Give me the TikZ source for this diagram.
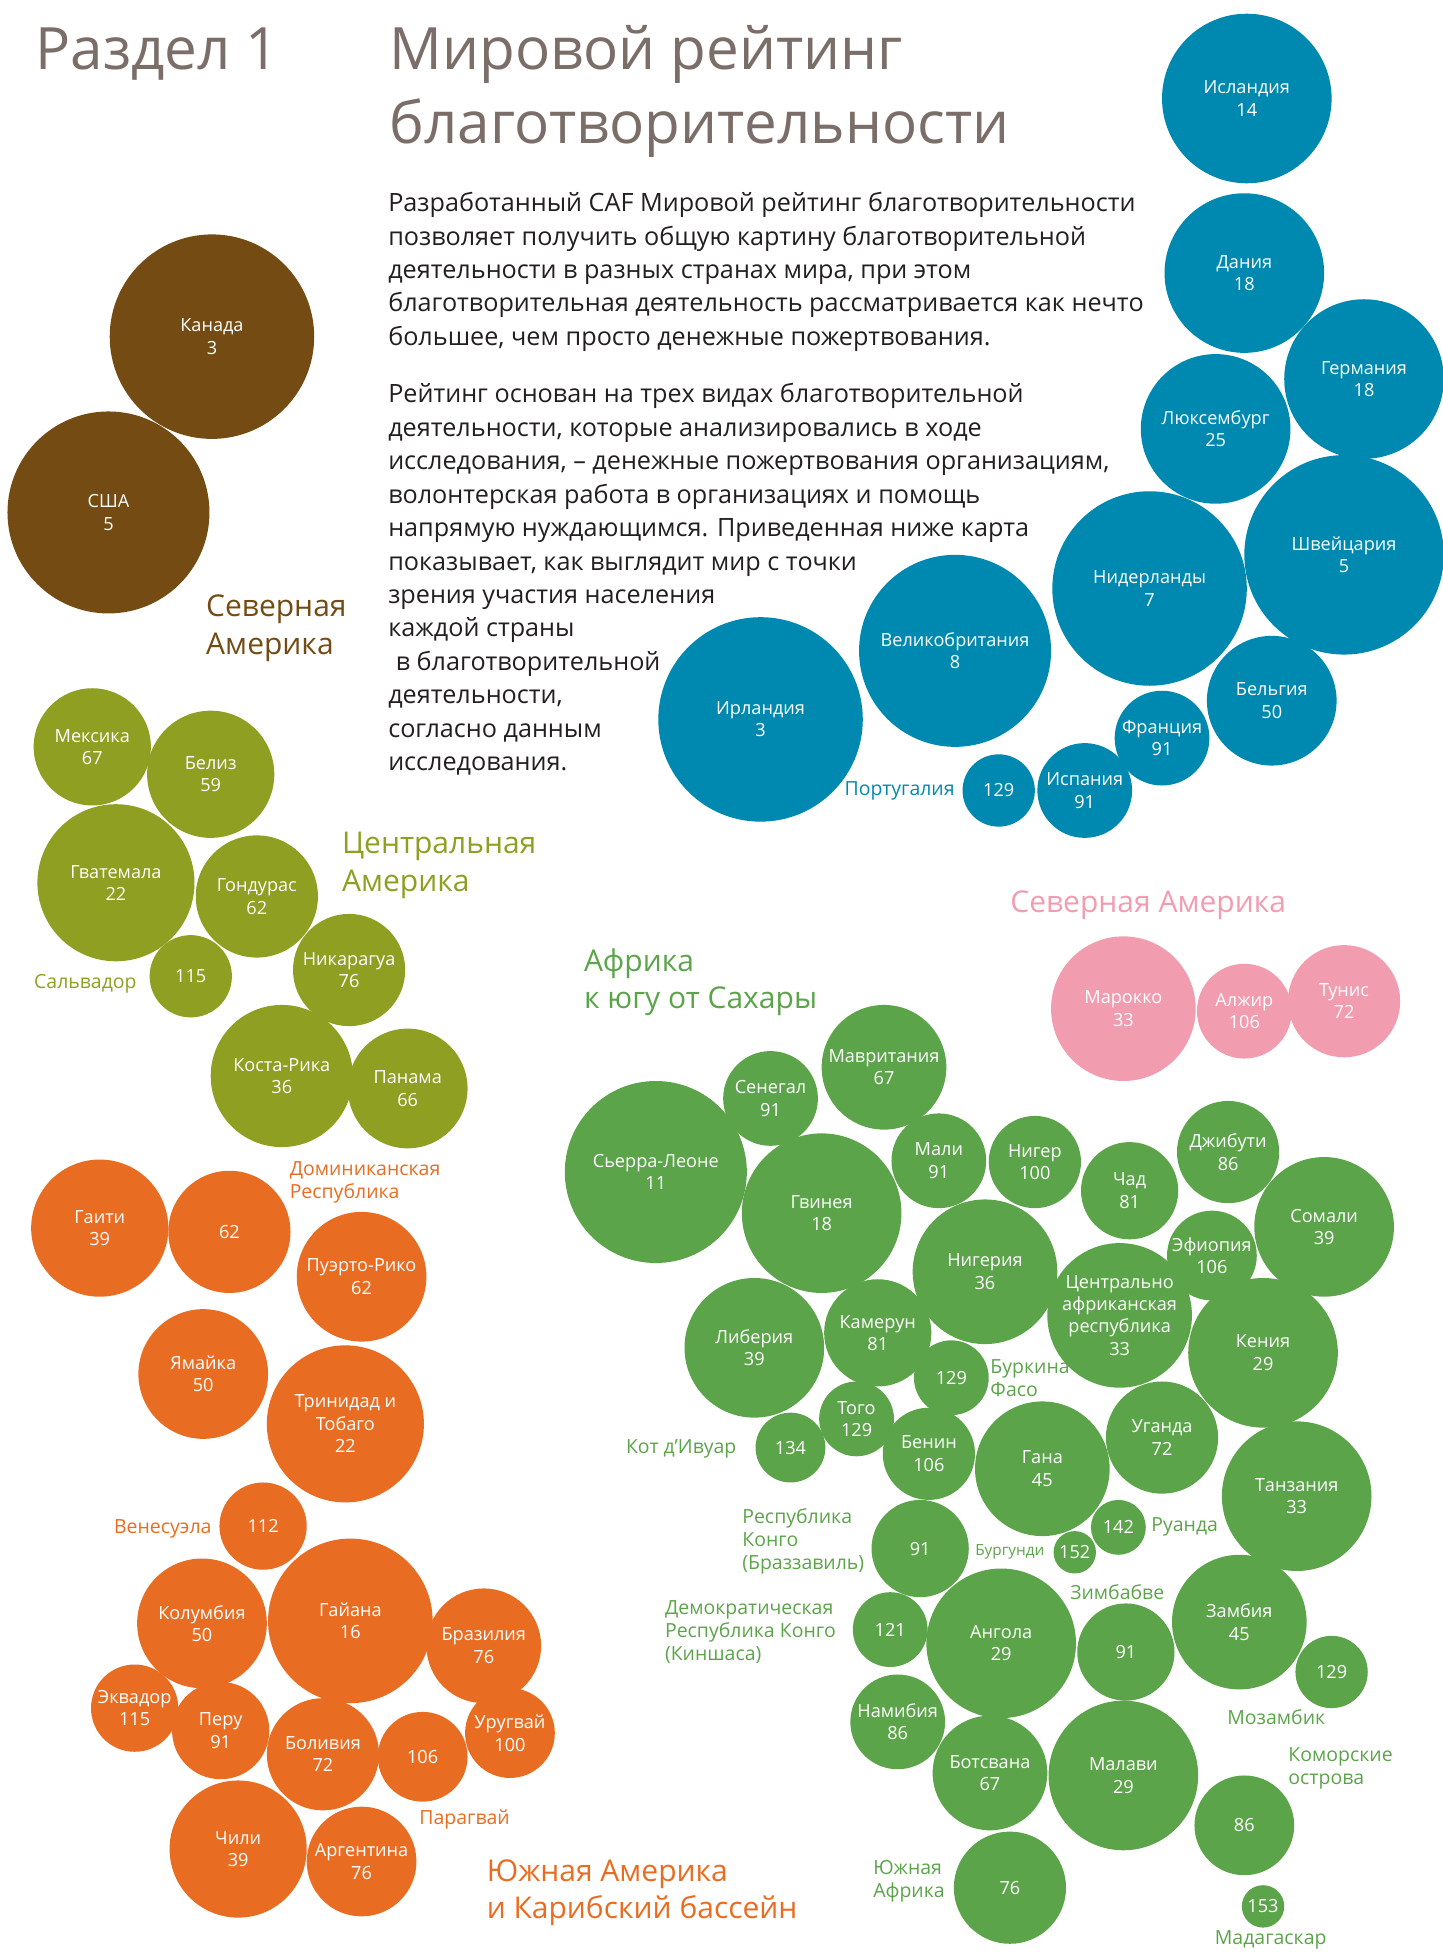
\documentclass[tikz,border=0pt]{standalone}
\usepackage{fontspec}
\setmainfont{Open Sans}

\definecolor{cBlu}{RGB}{0,137,176}
\definecolor{cBrn}{RGB}{116,75,19}
\definecolor{cOlv}{RGB}{142,159,34}
\definecolor{cOrg}{RGB}{232,109,34}
\definecolor{cGrn}{RGB}{92,164,74}
\definecolor{cPnk}{RGB}{242,156,176}
\definecolor{cTtl}{RGB}{123,110,105}
\definecolor{cTxt}{RGB}{35,31,32}

\newcommand\bubfont{\fontsize{13.6}{16.8}\selectfont}
\newcommand\lblfont{\fontsize{14.6}{17.2}\selectfont}
\newcommand\smlfont{\fontsize{11.5}{13}\selectfont}
\newcommand\regfont{\fontsize{22.5}{28}\selectfont}
\newcommand\txtfont{\fontsize{18.9}{25.07}\selectfont}
\newcommand\ttlfont{\fontsize{43.8}{55.2}\selectfont}

\tikzset{every picture/.style={line width=0.75pt}}
\tikzset{
  bub/.style={circle, inner sep=-8pt, text=white, align=center, font=\bubfont},
  rad/.style={minimum size=#1*1.8708pt},
  blu/.style={bub, fill=cBlu},
  brn/.style={bub, fill=cBrn},
  olv/.style={bub, fill=cOlv},
  org/.style={bub, fill=cOrg},
  grn/.style={bub, fill=cGrn},
  pnk/.style={bub, fill=cPnk},
  lbl/.style={inner sep=0pt, align=left, font=\lblfont},
  reg/.style={inner sep=0pt, align=left, font=\regfont},
}

\begin{document}
\begin{tikzpicture}[x=0.9354pt,y=0.9354pt,yscale=-1,xscale=1]
\useasboundingbox (0,0) rectangle (1157,1568);

% Title
\node[anchor=base west, inner sep=0pt, font=\ttlfont, text=cTtl] (sec) at (28,56) {Раздел 1};
\node[anchor=base west, inner sep=0pt, font=\ttlfont, text=cTtl, align=left] (ttl) at (312,115) {Мировой рейтинг\\благотворительности};

% Text (base = last line)
\node[anchor=base west, inner sep=0pt, font=\txtfont, text=cTxt, align=left] (par1) at (311,277) {Разработанный CAF Мировой рейтинг благотворительности\\позволяет получить общую картину благотворительной\\деятельности в разных странах мира, при этом\\благотворительная деятельность рассматривается как нечто\\большее, чем просто денежные пожертвования.};
\node[anchor=base west, inner sep=0pt, font=\txtfont, text=cTxt, align=left] (par2) at (311,618) {Рейтинг основан на трех видах благотворительной\\деятельности, которые анализировались в ходе\\исследования, – денежные пожертвования организациям,\\волонтерская работа в организациях и помощь\\напрямую нуждающимся. Приведенная ниже карта\\показывает, как выглядит мир с точки\\зрения участия населения\\каждой страны\\\hspace*{0.3em}в благотворительной\\деятельности,\\согласно данным\\исследования.};

% Europe
\node[blu, rad=68] (isl) at (1000,79) {Исландия\\14};
\node[blu, rad=64] (dnk) at (998,219) {Дания\\18};
\node[blu, rad=64] (deu) at (1094,304) {Германия\\18};
\node[blu, rad=60] (lux) at (975,344) {Люксембург\\25};
\node[blu, rad=80] (che) at (1078,445) {Швейцария\\5};
\node[blu, rad=78] (nld) at (922,472) {Нидерланды\\7};
\node[blu, rad=77] (gbr) at (766,522) {Великобритания\\8};
\node[blu, rad=82] (irl) at (610,577) {Ирландия\\3};
\node[blu, rad=52] (bel) at (1020,562) {Бельгия\\50};
\node[blu, rad=38] (fra) at (932,592) {Франция\\91};
\node[blu, rad=38] (esp) at (870,634) {Испания\\91};
\node[blu, rad=29] (prt) at (801,634) {129};
\node[lbl, anchor=east, text=cBlu] (prtl) at (766,634) {Португалия};

% North America
\node[brn, rad=82] (can) at (170,270) {Канада\\3};
\node[brn, rad=81] (usa) at (87,411) {США\\5};
\node[reg, anchor=west, text=cBrn] (nam) at (165,504) {Северная\\Америка};

% Central America
\node[olv, rad=47] (mex) at (74,599) {Мексика\\67};
\node[olv, rad=51] (blz) at (169,621) {Белиз\\59};
\node[olv, rad=63] (gtm) at (93,708) {Гватемала\\22};
\node[olv, rad=49] (hnd) at (206,719) {Гондурас\\62};
\node[olv, rad=33] (slv) at (153,783) {115};
\node[olv, rad=45] (nic) at (280,778) {Никарагуа\\76};
\node[olv, rad=57] (cri) at (226,863) {Коста-Рика\\36};
\node[olv, rad=48] (pan) at (327,873) {Панама\\66};
\node[lbl, anchor=west, text=cOlv] (slvl) at (27,789) {Сальвадор};
\node[reg, anchor=west, text=cOlv] (cam) at (274,694) {Центральная\\Америка};

% South America and Caribbean
\node[org, rad=55] (hti) at (80,985) {Гаити\\39};
\node[org, rad=49] (dom) at (184,988) {62};
\node[org, rad=52] (pri) at (290,1024) {Пуэрто-Рико\\62};
\node[org, rad=52] (jam) at (163,1102) {Ямайка\\50};
\node[org, rad=63] (tto) at (277,1142) {Тринидад и\\Тобаго\\22};
\node[org, rad=35] (ven) at (211,1224) {112};
\node[org, rad=52] (col) at (162,1302) {Колумбия\\50};
\node[org, rad=66] (guy) at (281,1300) {Гайана\\16};
\node[org, rad=46] (bra) at (388,1320) {Бразилия\\76};
\node[org, rad=35] (ecu) at (108,1370) {Эквадор\\115};
\node[org, rad=39] (per) at (177,1388) {Перу\\91};
\node[org, rad=45] (bol) at (259,1407) {Боливия\\72};
\node[org, rad=36] (pry) at (339,1409) {106};
\node[org, rad=36] (ury) at (409,1390) {Уругвай\\100};
\node[org, rad=55] (chl) at (191,1483) {Чили\\39};
\node[org, rad=44] (arg) at (290,1493) {Аргентина\\76};
\node[lbl, anchor=west, text=cOrg] (doml) at (232,948) {Доминиканская\\Республика};
\node[lbl, anchor=east, text=cOrg] (venl) at (170,1226) {Венесуэла};
\node[lbl, anchor=west, text=cOrg] (pryl) at (336,1459) {Парагвай};
\node[reg, anchor=west, text=cOrg] (sam) at (390,1518) {Южная Америка\\и Карибский бассейн};

% North Africa
\node[reg, anchor=west, text=cPnk] (naf) at (810,726) {Северная Америка};
\node[pnk, rad=58] (mar) at (901,809) {Марокко\\33};
\node[pnk, rad=38] (dza) at (998,811) {Алжир\\106};
\node[pnk, rad=45] (tun) at (1078,803) {Тунис\\72};

% Sub-Saharan Africa
\node[reg, anchor=west, text=cGrn] (ssa) at (468,788) {Африка\\к югу от Сахары};
\node[grn, rad=50] (mrt) at (709,856) {Мавритания\\67};
\node[grn, rad=38] (sen) at (618,881) {Сенегал\\91};
\node[grn, rad=73] (sle) at (526,940) {Сьерра-Леоне\\11};
\node[grn, rad=38] (mli) at (753,931) {Мали\\91};
\node[grn, rad=37] (ner) at (830,932) {Нигер\\100};
\node[grn, rad=39] (tcd) at (906,955) {Чад\\81};
\node[grn, rad=41] (dji) at (985,924) {Джибути\\86};
\node[grn, rad=56] (som) at (1062,984) {Сомали\\39};
\node[grn, rad=36] (eth) at (972,1007) {Эфиопия\\106};
\node[grn, rad=64] (gin) at (659,973) {Гвинея\\18};
\node[grn, rad=58] (nga) at (790,1020) {Нигерия\\36};
\node[grn, rad=58] (caf) at (898,1055) {Центрально\\африканская\\республика\\33};
\node[grn, rad=60] (ken) at (1013,1085) {Кения\\29};
\node[grn, rad=56] (lbr) at (605,1081) {Либерия\\39};
\node[grn, rad=43] (cmr) at (704,1069) {Камерун\\81};
\node[grn, rad=30] (bfa) at (763,1105) {129};
\node[grn, rad=30] (tgo) at (687,1138) {Того\\129};
\node[grn, rad=28] (civ) at (634,1161) {134};
\node[grn, rad=37] (ben) at (745,1166) {Бенин\\106};
\node[grn, rad=54] (gha) at (836,1178) {Гана\\45};
\node[grn, rad=45] (uga) at (932,1153) {Уганда\\72};
\node[grn, rad=60] (tza) at (1040,1200) {Танзания\\33};
\node[grn, rad=22] (rwa) at (897,1225) {142};
\node[grn, rad=17] (bdi) at (862,1245) {152};
\node[grn, rad=39] (cog) at (738,1242) {91};
\node[grn, rad=30] (cod) at (714,1307) {121};
\node[grn, rad=60] (ago) at (803,1318) {Ангола\\29};
\node[grn, rad=39] (zwe) at (903,1325) {91};
\node[grn, rad=54] (zmb) at (994,1301) {Замбия\\45};
\node[grn, rad=29] (moz) at (1068,1341) {129};
\node[grn, rad=38] (nmb) at (720,1381) {Намибия\\86};
\node[grn, rad=46] (bwa) at (794,1422) {Ботсвана\\67};
\node[grn, rad=60] (mwi) at (901,1424) {Малави\\29};
\node[grn, rad=40] (com) at (998,1464) {86};
\node[grn, rad=45] (zaf) at (810,1514) {76};
\node[grn, rad=17] (mdg) at (1013,1529) {153};

\node[lbl, anchor=west, text=cGrn] (bfal) at (794,1105) {Буркина\\Фасо};
\node[lbl, anchor=east, text=cGrn] (civl) at (591,1162) {Кот д’Ивуар};
\node[lbl, anchor=west, text=cGrn] (rwal) at (923,1225) {Руанда};
\node[lbl, anchor=east, text=cGrn, font=\smlfont] (bdil) at (838,1245) {Бургунди};
\node[lbl, anchor=west, text=cGrn] (cogl) at (595,1236) {Республика\\Конго\\(Браззавиль)};
\node[lbl, anchor=west, text=cGrn] (zwel) at (858,1277) {Зимбабве};
\node[lbl, anchor=west, text=cGrn] (codl) at (533,1309) {Демократическая\\Республика Конго\\(Киншаса)};
\node[lbl, anchor=west, text=cGrn] (mozl) at (984,1377) {Мозамбик};
\node[lbl, anchor=west, text=cGrn] (coml) at (1033,1418) {Коморские\\острова};
\node[lbl, anchor=west, text=cGrn] (zafl) at (700,1509) {Южная\\Африка};
\node[lbl, anchor=west, text=cGrn] (mdgl) at (974,1556) {Мадагаскар};

\end{tikzpicture}
\end{document}
